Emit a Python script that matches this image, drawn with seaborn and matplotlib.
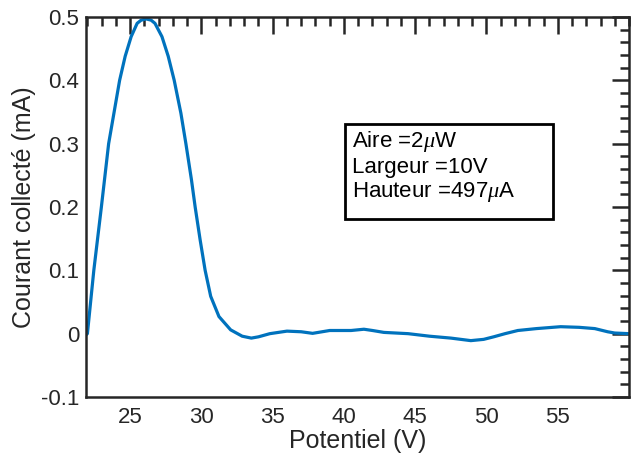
import seaborn as sns
import matplotlib.pyplot as plt
import matplotlib.patches as mpatches
from matplotlib.ticker import MultipleLocator
import pandas as pd

# Valeurs
potentiel = [21.9, 22.0, 22.45, 22.98, 23.49, 23.86, 24.26, 24.65, 25.07, 25.49, 25.77,
             26.12, 26.47, 26.74, 27.23, 27.67, 28.09, 28.56, 28.91, 29.3, 29.56, 29.91,
             30.26, 30.65, 31.23, 32.05, 32.86, 33.5, 34.0, 34.8, 36.0, 37.0, 37.8, 39.0,
             40.5, 41.4, 42.0, 42.8, 44.5, 46.0, 47.5, 48.9, 49.8, 50.5, 51.3, 52.2, 53.5,
             55.2, 56.5, 57.6, 58.5, 59.0, 60.0]
courant = [-0.002, 0.0, 0.1, 0.2, 0.3, 0.348, 0.4, 0.438, 0.469, 0.49, 0.495,
           0.497, 0.495, 0.49, 0.469, 0.438, 0.4, 0.348, 0.3, 0.243, 0.2, 0.148,
           0.1, 0.059, 0.027, 0.006, -0.004, -0.007, -0.005, 0.0, 0.004, 0.003, 0.0005, 0.005,
           0.005, 0.007, 0.005, 0.002, 0.0, -0.004, -0.007, -0.011, -0.009, -0.005, 0.0, 0.005, 0.008,
           0.011, 0.010, 0.008, 0.003, 0.001, 0.0]

yticks = [-0.1, 0.0, 0.1, 0.2, 0.3, 0.4, 0.5]
ytick_labels = ['-0.1', '0', '0.1', '0.2', '0.3', '0.4', '0.5']
xticks = [25, 30, 35, 40, 45, 50, 55]
lignes_texte = ['Aire =2$\\mu$W', 'Largeur =10V', 'Hauteur =497$\\mu$A']

df = pd.DataFrame({'Potentiel': potentiel, 'Courant': courant})

sns.set_style('white')
plt.rcParams['font.family'] = ['Liberation Sans', 'DejaVu Sans']
plt.rcParams['mathtext.fontset'] = 'custom'
plt.rcParams['mathtext.it'] = 'Liberation Serif:italic'
plt.rcParams['mathtext.rm'] = 'Liberation Sans'

fig = plt.figure(figsize=(6.35, 4.62), dpi=100)
ax = fig.add_axes([0.1354, 0.1407, 0.8552, 0.8225])

sns.lineplot(data=df, x='Potentiel', y='Courant', ax=ax, color='#0072BD',
             linewidth=2.3, sort=False)

ax.set_xlim(21.9, 60)
ax.set_ylim(-0.1, 0.5)
ax.set_xticks(xticks)
ax.set_yticks(yticks)
ax.set_yticklabels(ytick_labels)
ax.xaxis.set_minor_locator(MultipleLocator(1))
ax.yaxis.set_minor_locator(MultipleLocator(0.02))

ax.tick_params(which='both', direction='in', top=True, right=True,
               colors='#262626', labelcolor='#262626', width=1.8, labelsize=16)
ax.tick_params(which='major', length=12.5)
ax.tick_params(which='minor', length=6.5)
ax.tick_params(axis='x', pad=7)
ax.tick_params(axis='y', pad=5)
for s in ax.spines.values():
    s.set_linewidth(1.8)
    s.set_color('#262626')

ax.set_xlabel('Potentiel (V)', fontsize=18, color='#262626', labelpad=1)
ax.set_ylabel('Courant collecté (mA)', fontsize=18, color='#262626', labelpad=3)

# cadre de l'annotation
rect = mpatches.Rectangle((0.477, 0.468), 0.383, 0.250, transform=ax.transAxes,
                          fill=True, facecolor='white', edgecolor='black', linewidth=2.0, zorder=5)
ax.add_patch(rect)
for yy, txt in zip([0.672, 0.605, 0.540], lignes_texte):
    ax.text(0.489, yy, txt, transform=ax.transAxes, fontsize=16, va='center', ha='left',
            color='black', zorder=6)

fig.savefig('out.png', dpi=100)
